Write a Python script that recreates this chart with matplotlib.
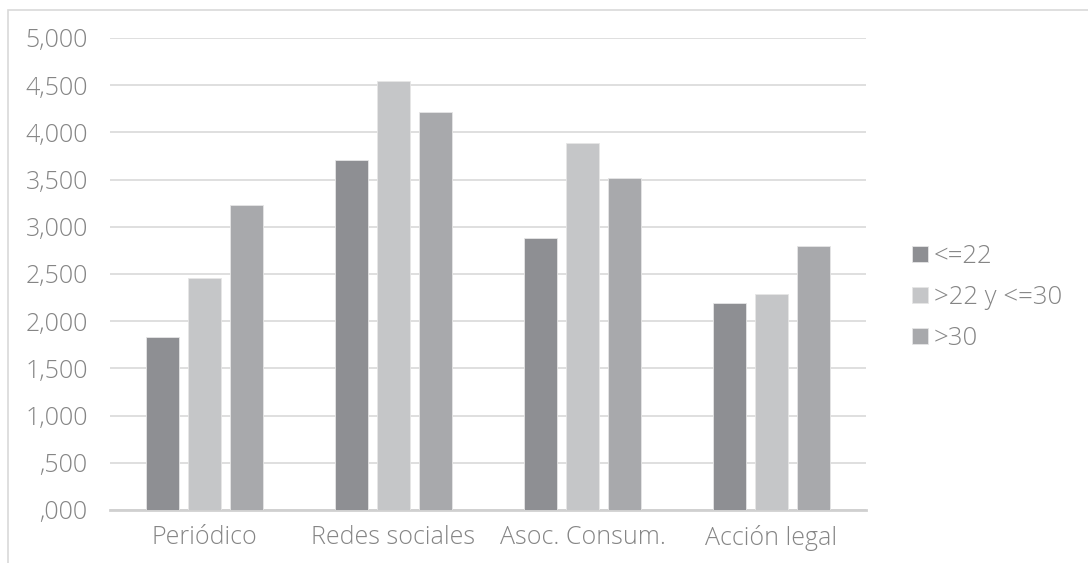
import matplotlib.pyplot as plt
import numpy as np
from matplotlib.patches import Rectangle

categories = ['Periódico', 'Redes sociales', 'Asoc. Consum.', 'Acción legal']
series_labels = ['<=22', '>22 y <=30', '>30']
menor_22 = [1.829, 3.712, 2.880, 2.190]
entre_22_30 = [2.455, 4.540, 3.885, 2.293]
mayor_30 = [3.227, 4.214, 3.520, 2.792]
yticks = [0, 0.5, 1, 1.5, 2, 2.5, 3, 3.5, 4, 4.5, 5]
ytick_labels = [',000', ',500', '1,000', '1,500', '2,000', '2,500',
                '3,000', '3,500', '4,000', '4,500', '5,000']

colors = ['#8e8f93', '#c5c6c8', '#a8a9ac']
text_color = '#858585'
plt.rcParams['font.family'] = ['Open Sans', 'DejaVu Sans']
plt.rcParams['font.weight'] = 'light'

fig = plt.figure(figsize=(10.88, 5.63), dpi=100)
ax = fig.add_axes([110 / 1088, 1 - 510 / 563, 756 / 1088, (510 - 38) / 563])

# thin frame around the chart area
fig.patches.append(Rectangle((8 / 1088, -0.1), 1.2, 1 - 10 / 563 + 0.1,
                             transform=fig.transFigure, fill=False,
                             edgecolor='#d9d9d9', linewidth=1.2))

x = np.arange(len(categories))
step = 0.222
width = 0.175
all_series = [menor_22, entre_22_30, mayor_30]
for i, vals in enumerate(all_series):
    ax.bar(x + (i - 1) * step, vals, width=width, color=colors[i],
           edgecolor='#e6e6e6', linewidth=0.6, label=series_labels[i], zorder=3)

ax.set_xlim(-0.5, len(categories) - 0.5)
ax.set_ylim(0, 5)
ax.set_yticks(yticks)
ax.set_yticklabels(ytick_labels)
ax.set_xticks(x)
ax.set_xticklabels(categories)

ax.yaxis.grid(True, color='#d9d9d9', linewidth=1.2, zorder=0)
ax.set_axisbelow(True)
for side in ['top', 'right', 'left']:
    ax.spines[side].set_visible(False)
ax.spines['bottom'].set_color('#d0d0d0')
ax.spines['bottom'].set_linewidth(2)

ax.tick_params(axis='y', length=0, pad=16, labelsize=18, labelcolor=text_color)
ax.tick_params(axis='x', length=0, pad=11, labelsize=18, labelcolor=text_color)

ax.legend(loc='center left', bbox_to_anchor=(1.061, 0.45), frameon=False,
          fontsize=18.5, labelcolor=text_color, handlelength=0.6,
          handleheight=0.6, handletextpad=0.25, labelspacing=0.62,
          borderaxespad=0, borderpad=0)

plt.savefig('out.png', dpi=100)
